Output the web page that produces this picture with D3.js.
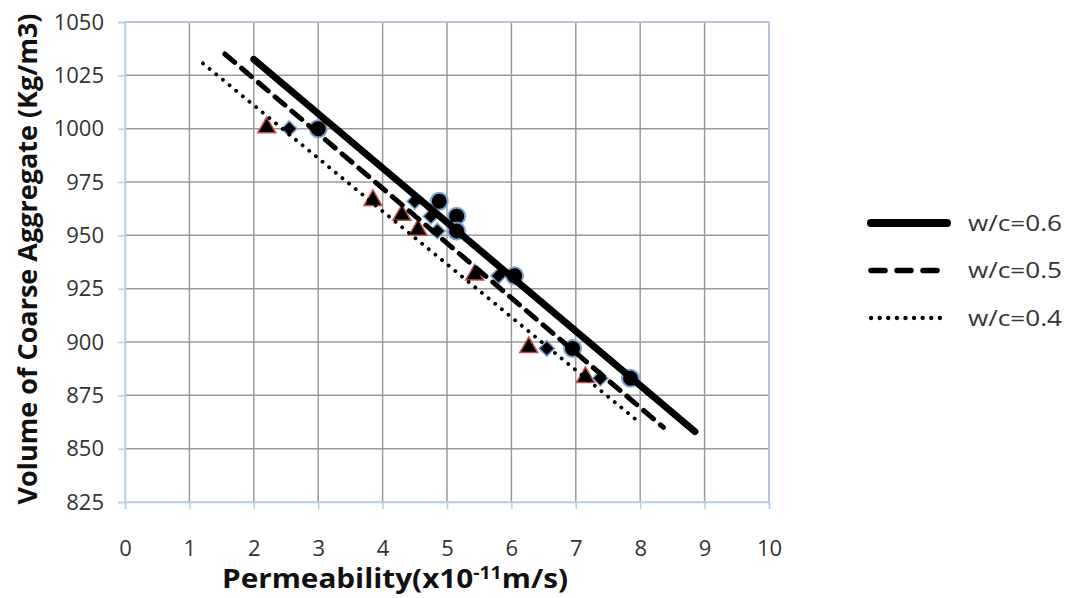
<!DOCTYPE html>
<html>
<head>
<meta charset="utf-8">
<script src="https://cdn.jsdelivr.net/npm/d3@7"></script>
<style>
	body { margin: 0; background: #fff; }
	text { font-family: "Open Sans", "Liberation Sans", sans-serif; }
</style>
</head>
<body>
<svg id="chart" width="1073" height="598"></svg>
<script>
"use strict";

// measured points (x = permeability, y = volume of coarse aggregate)
var volumes = [1000, 966, 959, 952, 931, 897, 883];
var permW06 = [3.0, 4.88, 5.15, 5.15, 6.05, 6.95, 7.85];
var permW05 = [2.55, 4.5, 4.75, 4.85, 5.8, 6.55, 7.38];
var permW04 = [2.2, 3.85, 4.3, 4.55, 5.43, 6.27, 7.15];

// fitted lines, [x, y] endpoints
var lineW06 = [[2.0, 1032.5], [8.85, 858]];
var lineW05 = [[1.55, 1035], [8.36, 860]];
var lineW04 = [[1.21, 1030.6], [8.0, 862]];

var xTicks = [0, 1, 2, 3, 4, 5, 6, 7, 8, 9, 10];
var yTicks = [825, 850, 875, 900, 925, 950, 975, 1000, 1025, 1050];
var legendLabels = ["w/c=0.6", "w/c=0.5", "w/c=0.4"];

var svg = d3.select("#chart");
var pLeft = 125, pRight = 769, pTop = 22, pBottom = 502;

var x = d3.scaleLinear().domain([0, 10]).range([pLeft, pRight]);
var y = d3.scaleLinear().domain([825, 1050]).range([pBottom, pTop]);

// grid
svg.append("g").selectAll("line").data(xTicks.slice(1)).enter().append("line")
	.attr("x1", function(d){ return x(d); }).attr("x2", function(d){ return x(d); })
	.attr("y1", pTop).attr("y2", pBottom)
	.attr("stroke", "#9a9a9a").attr("stroke-width", 1.5);
svg.append("g").selectAll("line").data(yTicks.slice(1)).enter().append("line")
	.attr("x1", pLeft).attr("x2", pRight)
	.attr("y1", function(d){ return y(d); }).attr("y2", function(d){ return y(d); })
	.attr("stroke", "#9a9a9a").attr("stroke-width", 1.5);

// plot border
svg.append("rect")
	.attr("x", pLeft).attr("y", pTop)
	.attr("width", pRight - pLeft).attr("height", pBottom - pTop)
	.attr("fill", "none").attr("stroke", "#b8cce8").attr("stroke-width", 1.5);

// axes
var xAxis = d3.axisBottom(x).tickValues(xTicks).tickFormat(d3.format("d")).tickSize(7).tickPadding(31);
var yAxis = d3.axisLeft(y).tickValues(yTicks).tickFormat(d3.format("d")).tickSize(7).tickPadding(14);

var gx = svg.append("g").attr("transform", "translate(0," + pBottom + ")").call(xAxis);
var gy = svg.append("g").attr("transform", "translate(" + pLeft + ",0)").call(yAxis);
[gx, gy].forEach(function(g){
	g.select(".domain").attr("stroke", "#b8cce8").attr("stroke-width", 1.5);
	g.selectAll(".tick line").attr("stroke", "#b8cce8").attr("stroke-width", 1.5);
	g.selectAll(".tick text").attr("fill", "#333").style("font-size", "22px")
		.style("font-family", "'Open Sans', sans-serif");
});

// markers
var mk = svg.append("g");
permW04.forEach(function(p, i){
	mk.append("path")
		.attr("d", d3.symbol().type(d3.symbolTriangle).size(140)())
		.attr("transform", "translate(" + x(p) + "," + (y(volumes[i]) - 1) + ")")
		.attr("fill", "#000").attr("stroke", "#c0504d").attr("stroke-width", 1.5);
});
permW05.forEach(function(p, i){
	mk.append("path")
		.attr("d", d3.symbol().type(d3.symbolSquare).size(120)())
		.attr("transform", "translate(" + x(p) + "," + y(volumes[i]) + ") rotate(45)")
		.attr("fill", "#000").attr("stroke", "#7fa2cf").attr("stroke-width", 1.5);
});
permW06.forEach(function(p, i){
	mk.append("circle")
		.attr("cx", x(p)).attr("cy", y(volumes[i])).attr("r", 8.5)
		.attr("fill", "#000").attr("stroke", "#7fa2cf").attr("stroke-width", 2);
});

// fitted lines
var line = d3.line().x(function(d){ return x(d[0]); }).y(function(d){ return y(d[1]); });
var styles = [
	{ data: lineW06, w: 7, dash: null },
	{ data: lineW05, w: 5, dash: "13,9" },
	{ data: lineW04, w: 3.8, dash: "0.1,8.5" }
];
styles.forEach(function(s){
	svg.append("path").datum(s.data).attr("d", line)
		.attr("fill", "none").attr("stroke", "#000")
		.attr("stroke-width", s.w).attr("stroke-linecap", "round")
		.attr("stroke-dasharray", s.dash);
});

// legend
var legY = d3.scalePoint().domain(legendLabels).range([223, 318]);
legendLabels.forEach(function(lab, i){
	var s = styles[i];
	svg.append("line")
		.attr("x1", 871).attr("x2", 947)
		.attr("y1", legY(lab)).attr("y2", legY(lab))
		.attr("stroke", "#000").attr("stroke-width", s.w + (i == 0 ? 1 : 0.5))
		.attr("stroke-linecap", "round").attr("stroke-dasharray", i == 1 ? "14,12" : s.dash);
	svg.append("text")
		.attr("x", 968).attr("y", legY(lab)).attr("dy", "0.35em")
		.attr("textLength", 94).attr("lengthAdjust", "spacingAndGlyphs")
		.style("font-size", "22px").attr("fill", "#333").text(lab);
});

// axis titles
svg.append("text")
	.attr("x", 222).attr("y", 588)
	.attr("textLength", 346).attr("lengthAdjust", "spacingAndGlyphs")
	.style("font-size", "26px").style("font-weight", "bold").attr("fill", "#111")
	.html("Permeability(x10<tspan dy='-9' font-size='17px'>-11</tspan><tspan dy='9'>m/s)</tspan>");
svg.append("text")
	.attr("transform", "translate(37," + 259 + ") rotate(-90)")
	.attr("text-anchor", "middle")
	.style("font-size", "27px").style("font-weight", "bold").attr("fill", "#111")
	.text("Volume of Coarse Aggregate (Kg/m3)");
</script>
</body>
</html>
